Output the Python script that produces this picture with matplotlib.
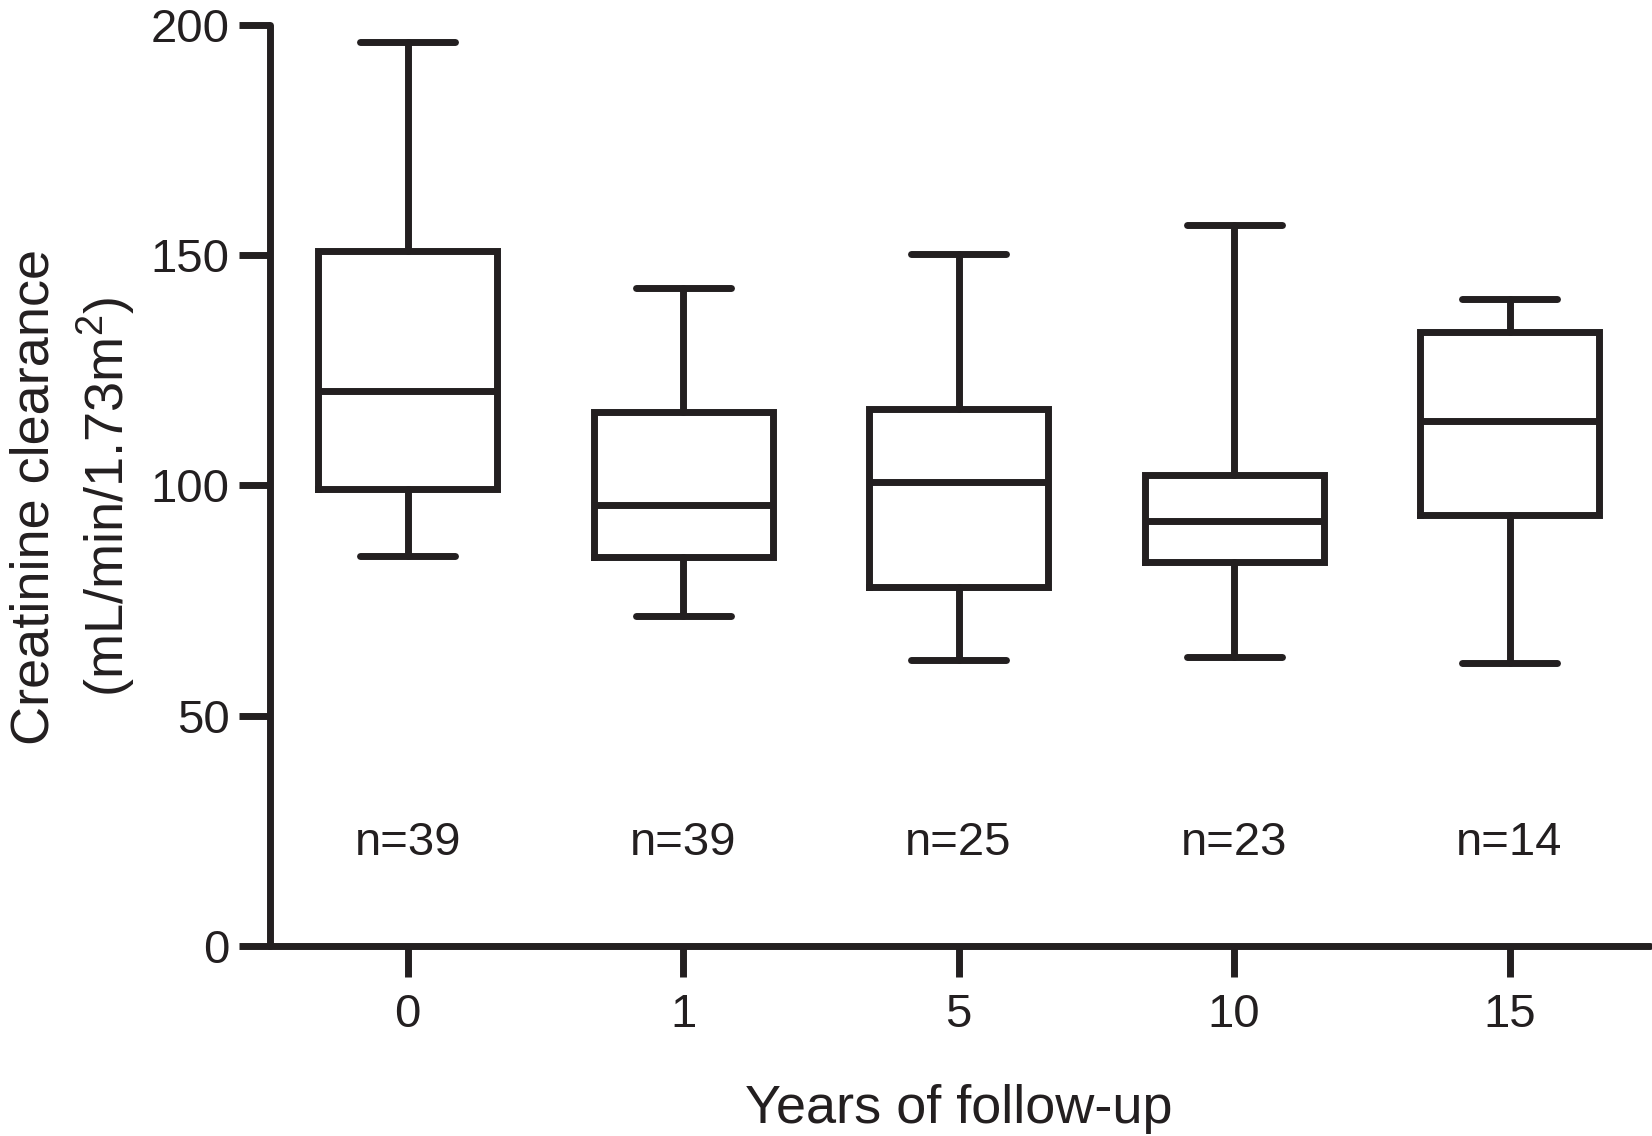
import matplotlib
matplotlib.use('Agg')
import matplotlib.pyplot as plt

plt.rcParams['font.family'] = ['Liberation Sans', 'DejaVu Sans']
plt.rcParams['mathtext.fontset'] = 'custom'
plt.rcParams['mathtext.rm'] = 'Liberation Sans'
plt.rcParams['mathtext.it'] = 'Liberation Sans'

# Box plot summaries
years = ['0', '1', '5', '10', '15']
n_patients = [39, 39, 25, 23, 14]
whisker_low = [84.7, 71.7, 62.1, 62.8, 61.4]
q1 = [99.3, 84.5, 77.9, 83.3, 93.6]
median = [120.5, 95.7, 100.7, 92.2, 113.9]
q3 = [150.9, 116.0, 116.7, 102.3, 133.3]
whisker_high = [196.3, 142.9, 150.2, 156.6, 140.6]

stats = []
for i in range(len(years)):
    stats.append({'whislo': whisker_low[i], 'q1': q1[i], 'med': median[i],
                  'q3': q3[i], 'whishi': whisker_high[i], 'fliers': []})

ink = '#231f20'
lw = 5
fig = plt.figure(figsize=(16.52, 11.36), dpi=100)
ax = fig.add_axes([270 / 1652, 1 - 946 / 1136, 1380 / 1652, 921 / 1136])

line_kw = dict(color=ink, linewidth=lw, solid_capstyle='round')
ax.bxp(stats, positions=range(len(years)), widths=0.65, capwidths=0.345,
       showfliers=False,
       boxprops=dict(color=ink, linewidth=lw, solid_joinstyle='miter'),
       medianprops=dict(color=ink, linewidth=lw),
       whiskerprops=line_kw, capprops=line_kw)

# sample sizes under each box
for i, n in enumerate(n_patients):
    ax.text(i, 22.3, 'n=%d' % n, ha='center', va='center', fontsize=34, color=ink)

ax.set_xlim(-0.5, 4.51)
ax.set_ylim(0, 200)
ax.set_yticks([0, 50, 100, 150, 200])
ax.set_xticks(range(len(years)))
ax.set_xticklabels(years)

for side in ['top', 'right']:
    ax.spines[side].set_visible(False)
for side in ['left', 'bottom']:
    ax.spines[side].set_linewidth(lw)
    ax.spines[side].set_color(ink)
    ax.spines[side].set_capstyle('round')

ax.tick_params(axis='both', direction='out', length=22, width=lw, colors=ink,
               labelsize=34)
ax.tick_params(axis='x', pad=12)
ax.tick_params(axis='y', pad=7)

fig.text(958.5 / 1652, 1 - 1123 / 1136, 'Years of follow-up', ha='center',
         va='baseline', fontsize=39, color=ink)
fig.text(49 / 1652, 1 - 497 / 1136, 'Creatinine clearance', rotation=90,
         rotation_mode='anchor', ha='center', va='baseline', fontsize=39, color=ink)
fig.text(124 / 1652, 1 - 497 / 1136, '(mL/min/1.73m$^2$)', rotation=90,
         rotation_mode='anchor', ha='center', va='baseline', fontsize=39, color=ink)

fig.savefig('out.png', dpi=100)
